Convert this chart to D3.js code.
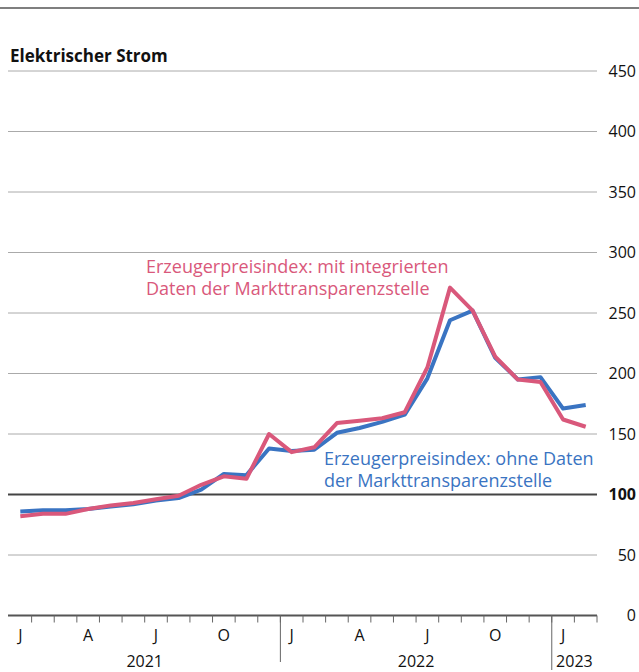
<!DOCTYPE html>
<html>
<head>
<meta charset="utf-8">
<script src="https://cdn.jsdelivr.net/npm/d3@7"></script>
<style>
  body { margin: 0; background: #fff; }
  svg { font-family: "Open Sans", sans-serif; }
</style>
</head>
<body>
<div id="chart"></div>
<script>
// Monthly index values, Jan 2021 .. Feb 2023
const months = ["2021-01","2021-02","2021-03","2021-04","2021-05","2021-06","2021-07","2021-08","2021-09","2021-10","2021-11","2021-12",
                "2022-01","2022-02","2022-03","2022-04","2022-05","2022-06","2022-07","2022-08","2022-09","2022-10","2022-11","2022-12",
                "2023-01","2023-02"];
const ohneDaten = [86, 87, 87, 88, 90, 92, 95, 97, 104, 117, 116, 138,
                   136, 137, 151, 155, 160, 166, 196, 244, 252, 213, 195, 197,
                   171, 174];
const mitDaten  = [82, 84, 84, 88, 91, 93, 96, 99, 108, 115, 113, 150,
                   135, 139, 159, 161, 163, 168, 205, 271, 252, 214, 195, 193,
                   162, 156];
const yTicks = [0, 50, 100, 150, 200, 250, 300, 350, 400, 450];
const monthLabels = {0: "J", 3: "A", 6: "J", 9: "O"};
const years = [{label: "2021", from: 0, to: 12}, {label: "2022", from: 12, to: 24}, {label: "2023", from: 24, to: 26}];

const W = 639, H = 672;
const svg = d3.select("#chart").append("svg").attr("width", W).attr("height", H);

const x = d3.scaleBand().domain(d3.range(months.length)).range([9, 597]);
const y = d3.scaleLinear().domain([0, 450]).range([615.5, 71]);
const xc = i => x(i) + x.bandwidth() / 2;

// top rule
svg.append("line").attr("x1", 0).attr("x2", W).attr("y1", 8).attr("y2", 8)
  .attr("stroke", "#555").attr("stroke-width", 1.5);

svg.append("text").attr("x", 10).attr("y", 62)
  .attr("font-weight", "bold").attr("font-size", 17).attr("fill", "#111")
  .text("Elektrischer Strom");

// grid + y labels
const grid = svg.append("g");
grid.selectAll("line").data(yTicks.filter(d => d > 0)).enter().append("line")
  .attr("x1", 8).attr("x2", 597)
  .attr("y1", d => y(d)).attr("y2", d => y(d))
  .attr("stroke", d => d === 100 ? "#444" : "#aaa")
  .attr("stroke-width", d => d === 100 ? 2 : 1);

svg.append("g").selectAll("text").data(yTicks).enter().append("text")
  .attr("x", 636).attr("y", d => y(d)).attr("dy", "0.35em")
  .attr("text-anchor", "end").attr("font-size", 16)
  .attr("font-weight", d => d === 100 ? "bold" : "normal")
  .attr("fill", "#111")
  .text(d => d);

// lines
const line = d3.line().x((d, i) => xc(i)).y(d => y(d));
svg.append("path").datum(ohneDaten).attr("d", line)
  .attr("fill", "none").attr("stroke", "#3a74c2").attr("stroke-width", 4)
  .attr("stroke-linejoin", "round");
svg.append("path").datum(mitDaten).attr("d", line)
  .attr("fill", "none").attr("stroke", "#d9587b").attr("stroke-width", 4)
  .attr("stroke-linejoin", "round");

// annotations
const red = svg.append("text").attr("fill", "#d9587b").attr("font-size", 18);
red.append("tspan").attr("x", 146).attr("y", 273).text("Erzeugerpreisindex: mit integrierten");
red.append("tspan").attr("x", 146).attr("y", 295).text("Daten der Markttransparenzstelle");
const blue = svg.append("text").attr("fill", "#3a74c2").attr("font-size", 18);
blue.append("tspan").attr("x", 324).attr("y", 465).text("Erzeugerpreisindex: ohne Daten");
blue.append("tspan").attr("x", 324).attr("y", 487).text("der Markttransparenzstelle");

// x axis
const axisY = y(0);
svg.append("line").attr("x1", 8).attr("x2", 597).attr("y1", axisY).attr("y2", axisY)
  .attr("stroke", "#555").attr("stroke-width", 2);
svg.append("g").selectAll("line").data(d3.range(1, months.length + 1)).enter().append("line")
  .attr("x1", i => i < months.length ? x(i) : x(i - 1) + x.bandwidth())
  .attr("x2", i => i < months.length ? x(i) : x(i - 1) + x.bandwidth())
  .attr("y1", axisY).attr("y2", axisY + 7)
  .attr("stroke", "#666").attr("stroke-width", 1);

// year separators
svg.append("g").selectAll("line").data([12, 24]).enter().append("line")
  .attr("x1", i => x(i)).attr("x2", i => x(i))
  .attr("y1", axisY).attr("y2", (d, k) => k === 0 ? 662 : 670)
  .attr("stroke", "#666").attr("stroke-width", 1);

svg.append("g").selectAll("text").data(d3.range(months.length).filter(i => (i % 12) in monthLabels))
  .enter().append("text")
  .attr("x", i => xc(i)).attr("y", 641).attr("text-anchor", "middle")
  .attr("font-size", 16).attr("fill", "#111")
  .text(i => monthLabels[i % 12]);

svg.append("g").selectAll("text").data(years).enter().append("text")
  .attr("x", d => (x(d.from) + (d.to < months.length ? x(d.to) : x(d.to - 1) + x.bandwidth())) / 2)
  .attr("y", 667).attr("text-anchor", "middle")
  .attr("font-size", 16).attr("fill", "#111")
  .text(d => d.label);
</script>
</body>
</html>
